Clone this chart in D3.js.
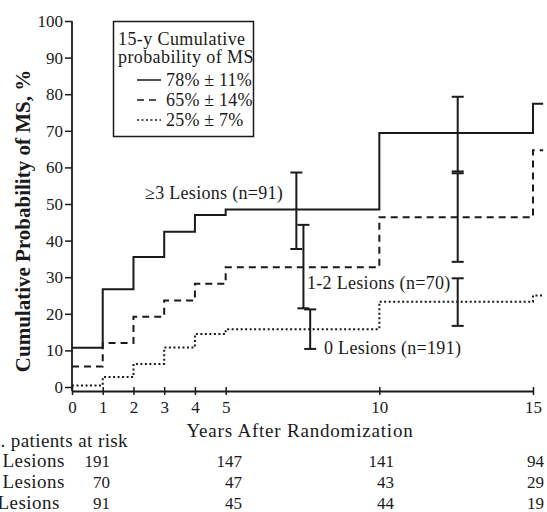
<!DOCTYPE html>
<html>
<head>
<meta charset="utf-8">
<script src="https://cdn.jsdelivr.net/npm/d3@7"></script>
<style>
  body { margin: 0; background: #fff; }
  text { font-family: "Liberation Serif", "Times New Roman", serif; fill: #1a1a1a; }
</style>
</head>
<body>
<div id="chart"></div>
<script>
// ---- data ----
const years = [0, 1, 2, 3, 4, 5, 10, 15];
const lesions3 = [10.7, 26.7, 35.5, 42.4, 47.0, 48.5, 69.4, 77.4];   // >=3 lesions
const lesions12 = [5.6, 12.0, 19.2, 23.6, 28.2, 32.7, 46.4, 64.7];   // 1-2 lesions
const lesions0 = [0.4, 2.7, 6.3, 10.8, 14.5, 15.8, 23.3, 25.0];      // 0 lesions

// 95% bars: [year, low, high]
const ci3 = [[7.3, 37.7, 58.6], [12.55, 58.9, 79.3]];
const ci12 = [[7.53, 21.5, 44.3], [12.55, 34.2, 58.4]];
const ci0 = [[7.75, 10.4, 21.2], [12.55, 16.7, 29.7]];

const legendLabels = ["78% \u00b1 11%", "65% \u00b1 14%", "25% \u00b1 7%"];
const curveLabels = ["\u22653 Lesions (n=91)", "1-2 Lesions (n=70)", "0 Lesions (n=191)"];

const riskLabels = ["0 Lesions", "1-2 Lesions", "\u22653 Lesions"];
const riskCounts = [
  [191, 147, 141, 94],
  [70, 47, 43, 29],
  [91, 45, 44, 19]
];

const xTicks = [0, 1, 2, 3, 4, 5, 10, 15];
const yTicks = d3.range(0, 101, 10);

// ---- layout ----
const width = 547, height = 512;
const svg = d3.select('#chart').append('svg')
    .attr('width', width).attr('height', height);

const x = d3.scaleLinear().domain([0, 15]).range([72, 533]);
const y = d3.scaleLinear().domain([0, 100]).range([387, 21]);
const axisY = 391;
const ink = '#1a1a1a';

const styles = [
  { dash: null },
  { dash: '7,5' },
  { dash: '2,2.5' }
];

// words are set a bit wider than Liberation Serif to mimic the Palatino of the original
function words(sel, size, spacing) {
  return sel.attr('font-size', size).attr('letter-spacing', spacing);
}

// y axis
const gy = svg.append('g').attr('transform', 'translate(72,0)')
    .call(d3.axisLeft(y).tickValues(yTicks).tickSize(7).tickPadding(2));
gy.select('.domain').remove();
gy.selectAll('.tick line').attr('stroke', ink).attr('stroke-width', 1.5);
gy.selectAll('.tick text').attr('font-size', 17).attr('font-family', '"Liberation Serif", serif').attr('fill', ink);
svg.append('line').attr('x1', 72).attr('x2', 72).attr('y1', y(100)).attr('y2', axisY)
    .attr('stroke', ink).attr('stroke-width', 1.8);

// x axis
const gx = svg.append('g').attr('transform', `translate(0,${axisY})`)
    .call(d3.axisBottom(x).tickValues(xTicks).tickSize(4).tickSizeOuter(0));
gx.select('.domain').attr('stroke', ink).attr('stroke-width', 1.8);
gx.selectAll('.tick line').attr('y1', -4).attr('stroke', ink).attr('stroke-width', 1.5);
gx.selectAll('.tick text').attr('y', 22).attr('dy', 0)
    .attr('font-size', 17).attr('font-family', '"Liberation Serif", serif').attr('fill', ink);

// axis titles
svg.append('text')
    .attr('transform', 'translate(30,221) rotate(-90)')
    .attr('text-anchor', 'middle')
    .attr('font-size', 21).attr('font-weight', 'bold')
    .text('Cumulative Probability of MS, %');

words(svg.append('text'), 19, 0.8)
    .attr('x', 300).attr('y', 437)
    .attr('text-anchor', 'middle')
    .text('Years After Randomization');

// step curves
const line = d3.line().curve(d3.curveStepAfter).x(d => x(d[0])).y(d => y(d[1]));
[lesions3, lesions12, lesions0].forEach((vals, i) => {
  const pts = years.map((yr, j) => [yr, vals[j]]);
  pts.push([15.33, vals[vals.length - 1]]);
  svg.append('path')
      .attr('d', line(pts))
      .attr('fill', 'none')
      .attr('stroke', ink)
      .attr('stroke-width', 2)
      .attr('stroke-dasharray', styles[i].dash);
});

// error bars
[ci3, ci12, ci0].forEach(bars => {
  bars.forEach(([yr, lo, hi]) => {
    const g = svg.append('g').attr('stroke', ink).attr('stroke-width', 2);
    g.append('line').attr('x1', x(yr)).attr('x2', x(yr)).attr('y1', y(lo)).attr('y2', y(hi));
    g.append('line').attr('x1', x(yr) - 6).attr('x2', x(yr) + 6).attr('y1', y(lo)).attr('y2', y(lo));
    g.append('line').attr('x1', x(yr) - 6).attr('x2', x(yr) + 6).attr('y1', y(hi)).attr('y2', y(hi));
  });
});

// curve labels
const labelPos = [[145, 199], [307, 289], [324, 354]];
curveLabels.forEach((t, i) => {
  words(svg.append('text'), 18, 0.3)
      .attr('x', labelPos[i][0]).attr('y', labelPos[i][1]).text(t);
});

// legend
const lg = svg.append('g');
lg.append('rect').attr('x', 113.5).attr('y', 21.5).attr('width', 140).attr('height', 115)
    .attr('fill', '#fff').attr('stroke', ink).attr('stroke-width', 1.5);
words(lg.append('text'), 18, 0.4).attr('x', 118).attr('y', 45).text('15-y Cumulative');
words(lg.append('text'), 18, 0.4).attr('x', 118).attr('y', 63).text('probability of MS');
legendLabels.forEach((t, i) => {
  const yy = 80 + i * 20;
  lg.append('line').attr('x1', 137).attr('x2', 161).attr('y1', yy).attr('y2', yy)
      .attr('stroke', ink).attr('stroke-width', 1.5)
      .attr('stroke-dasharray', styles[i].dash);
  words(lg.append('text'), 18, 0.2).attr('x', 166).attr('y', yy + 6).text(t);
});

// patients at risk table
words(svg.append('text'), 19, 0.4).attr('x', 128).attr('y', 447).attr('text-anchor', 'end')
    .text('No. patients at risk');
const labelEnds = [65, 65, 60];
const colEnds = [110, 242, 394, 544];
riskLabels.forEach((lab, r) => {
  const yy = 467 + r * 21;
  words(svg.append('text'), 19, 0.5).attr('x', labelEnds[r]).attr('y', yy).attr('text-anchor', 'end')
      .text(lab);
  riskCounts[r].forEach((n, c) => {
    svg.append('text').attr('x', colEnds[c]).attr('y', yy).attr('text-anchor', 'end')
        .attr('font-size', 17).text(n);
  });
});
</script>
</body>
</html>
